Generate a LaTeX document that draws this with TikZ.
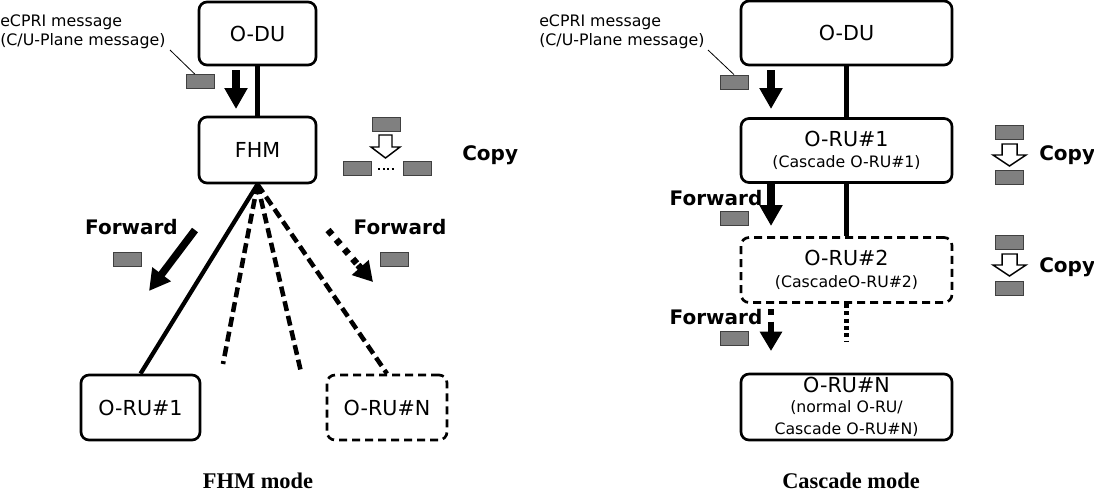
\documentclass[tikz,border=0pt]{standalone}
\usepackage{fontspec}
\setmainfont{DejaVu Sans}
\newfontfamily\tnr{Liberation Serif}
\usetikzlibrary{arrows.meta,calc}
\begin{document}
\begin{tikzpicture}[x=0.75pt,y=-0.75pt,
 box/.style={draw, line width=2pt, rounded corners=6pt, inner sep=0pt, align=center, font=\fontsize{15.5}{17}\selectfont},
 dbox/.style={box, dash pattern=on 6pt off 3.75pt},
 msg/.style={draw=black!75, line width=0.6pt, fill=black!50, minimum width=21pt, minimum height=10.5pt, inner sep=0pt},
 link/.style={line width=3.2pt},
 dlink/.style={line width=3.4pt, dash pattern=on 7.5pt off 3.75pt},
 olink/.style={line width=3.4pt, dash pattern=on 3pt off 2.5pt},
 fwd/.style={line width=5.6pt, -{Triangle[width=16.5pt,length=15.75pt]}},
 dshaft/.style={line width=5pt, dash pattern=on 4.5pt off 5pt},
 dhead/.style={line width=5pt, -{Triangle[width=16pt,length=14.5pt]}},
 lbl/.style={font=\bfseries\fontsize{15}{18}\selectfont, inner sep=0pt},
 note/.style={font=\fontsize{11.85}{14.25}\selectfont, align=left, inner sep=0pt, anchor=north west},
 captext/.style={font=\tnr\bfseries\fontsize{16.8}{20}\selectfont, inner sep=0pt, anchor=base},
 copyar/.style={draw, line width=1.1pt, fill=white, line join=miter},
 leader/.style={line width=0.6pt},
 dots/.style={line width=1.5pt, dash pattern=on 1.5pt off 1.8pt}
]
\useasboundingbox (0,0) rectangle (1094,493);

% ================= FHM mode =================
\node[box, minimum width=87.75pt, minimum height=47.25pt] (odu1) at (257.5,33.5) {O-DU};
\node[box, minimum width=87.75pt, minimum height=49.5pt] (fhm) at (257.5,150) {FHM};
\node[box, minimum width=89.25pt, minimum height=48.75pt] (ru1) at (140.5,407.5) {O-RU\#1};
\node[dbox, minimum width=90pt, minimum height=48.75pt] (ruN) at (387,407.5) {O-RU\#N};

\draw[link] (odu1) -- (fhm);
\coordinate (d1) at (223,364);
\coordinate (d2) at (301,372);
\draw[link] (fhm.south) -- (ru1.north);
\draw[dlink] (fhm.south) -- (d1);
\draw[dlink] (fhm.south) -- (d2);
\draw[dlink] (fhm.south) -- (ruN.north);

\node[note] (note1) at (0,15) {eCPRI message\\(C/U-Plane message)};
\node[msg] (m1) at (200,81.5) {};
\coordinate (n1) at (170,50);
\draw[leader] (n1) -- ($(m1.north west)!0.32!(m1.north east)$);
\coordinate (a1s) at (236,70);
\coordinate (a1e) at (236,109);
\draw[fwd] (a1s) -- (a1e);

% copy icon
\node[msg] (c1) at (386,124.5) {};
\node[msg] (c2) at (357,168.5) {};
\node[msg] (c3) at (417,168.5) {};
\draw[copyar] (379,135) -- (392,135) -- (392,147) -- (400,147) -- (385.5,158) -- (371,147) -- (379,147) -- cycle;
\draw[dots] ($(c2.east)+(7,0)$) -- ($(c3.west)+(-7,0)$);
\node[lbl, anchor=west] (copy1) at (462,155) {Copy};

% forward
\node[lbl] (f1) at (131.5,227) {Forward};
\node[lbl] (f2) at (400,227) {Forward};
\node[msg] (m2) at (127.5,259.5) {};
\node[msg] (m3) at (394,259.5) {};
\coordinate (b1s) at (195,230);
\coordinate (b1e) at (149,291);
\draw[fwd] (b1s) -- (b1e);
\coordinate (b2s) at (328,230);
\coordinate (b2m) at (358,265);
\coordinate (b2e) at (373,282);
\draw[dshaft] (b2s) -- (b2m);
\draw[dhead] (b2m) -- (b2e);

\node[captext] (cap1) at (258,488) {FHM mode};

% ================= Cascade mode =================
\node[box, minimum width=158.25pt, minimum height=48pt] (odu2) at (846.5,33) {O-DU};
\node[box, minimum width=158.25pt, minimum height=48pt] (rc1) at (846.5,150.5)
  {O-RU\#1\\[-1pt]{\fontsize{11.8}{13}\selectfont (Cascade O-RU\#1)}};
\node[dbox, minimum width=158.25pt, minimum height=48.75pt] (rc2) at (846.5,270)
  {O-RU\#2\\[-1pt]{\fontsize{11.8}{13}\selectfont (CascadeO-RU\#2)}};
\node[box, minimum width=158.25pt, minimum height=49.5pt] (rcN) at (846.5,407)
  {O-RU\#N\\[-2pt]{\fontsize{11.8}{15}\selectfont (normal O-RU/}\\[-1pt]{\fontsize{11.8}{15}\selectfont Cascade O-RU\#N)}};

\draw[link] (odu2) -- (rc1);
\draw[link] (rc1) -- (rc2);
\coordinate (dotend) at (846.5,341);
\draw[olink] (rc2.south) -- (dotend);

\node[note] (note2) at (539,15) {eCPRI message\\(C/U-Plane message)};
\node[msg] (m4) at (734,82) {};
\coordinate (n2) at (708,50);
\draw[leader] (n2) -- (m4.north);

\coordinate (a2s) at (771,70);
\coordinate (a2e) at (771,109);
\draw[fwd] (a2s) -- (a2e);
\coordinate (a3s) at (771,184);
\coordinate (a3e) at (771,226);
\draw[fwd] (a3s) -- (a3e);
\coordinate (a4s) at (771,309);
\coordinate (a4m) at (771,327);
\coordinate (a4e) at (771,351);
\draw[dshaft] (a4s) -- (a4m);
\draw[dhead] (a4m) -- (a4e);

\node[lbl] (f3) at (716,198) {Forward};
\node[lbl] (f4) at (716,317) {Forward};
\node[msg] (m5) at (734,218) {};
\node[msg] (m6) at (734,338) {};

% copy icons
\node[msg] (c4) at (1009,132) {};
\node[msg] (c5) at (1009,177) {};
\draw[copyar] (1002,144) -- (1017,144) -- (1017,155) -- (1026,155) -- (1009.5,166) -- (993,155) -- (1002,155) -- cycle;
\node[lbl, anchor=west] (copy2) at (1039,155) {Copy};

\node[msg] (c6) at (1009,242.5) {};
\node[msg] (c7) at (1009,288) {};
\draw[copyar] (1002,254) -- (1017,254) -- (1017,265) -- (1026,265) -- (1009.5,276) -- (993,265) -- (1002,265) -- cycle;
\node[lbl, anchor=west] (copy3) at (1039,267) {Copy};

\node[captext] (cap2) at (851,488) {Cascade mode};
\end{tikzpicture}
\end{document}
